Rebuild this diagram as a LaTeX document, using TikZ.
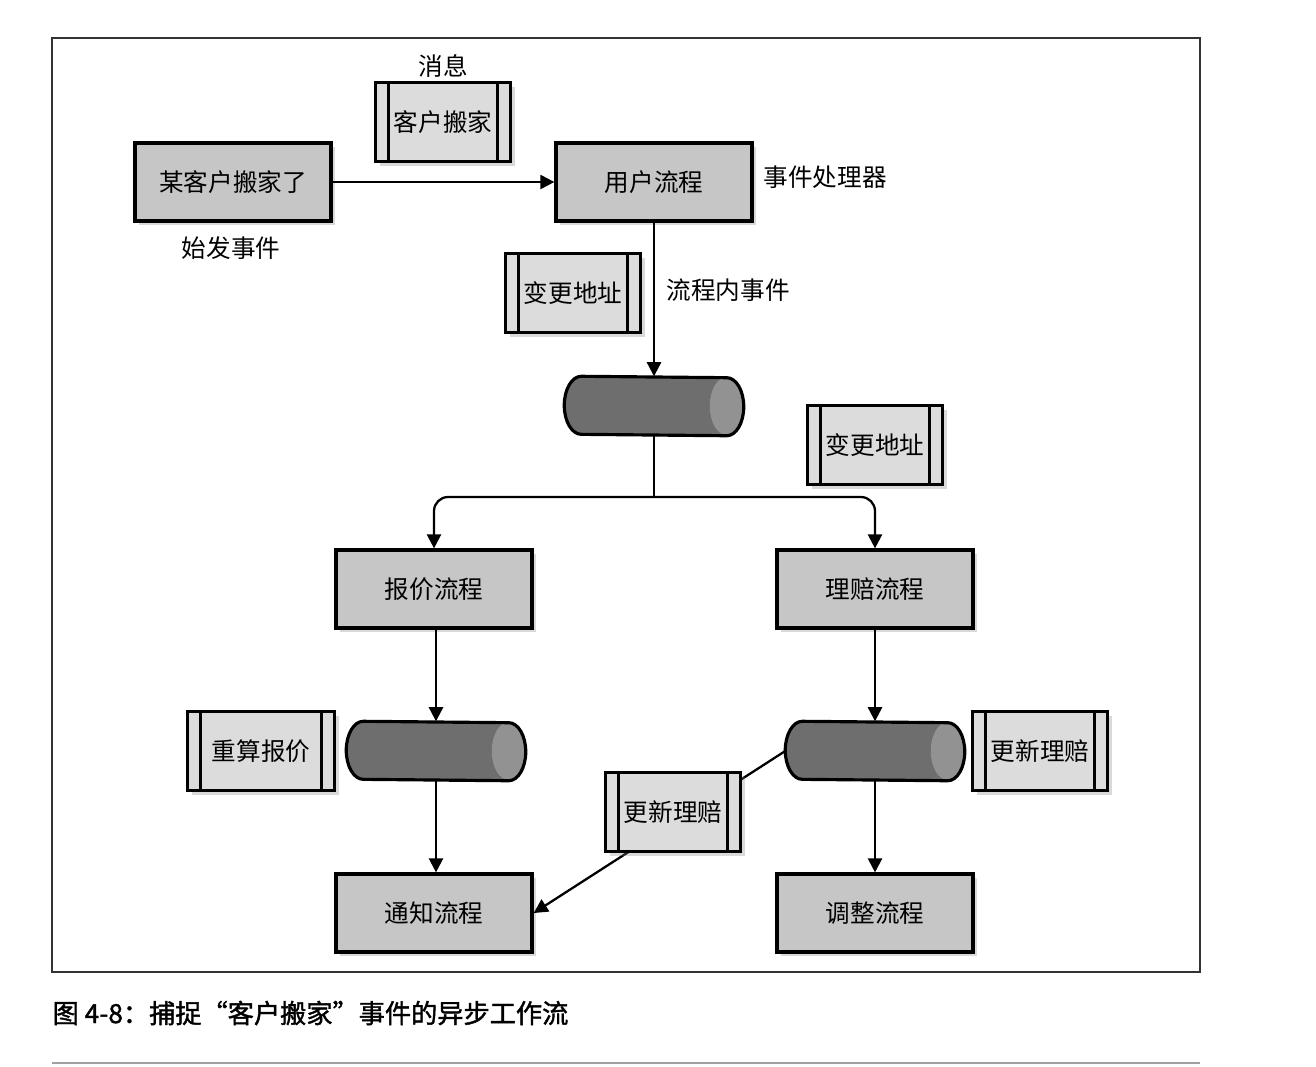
\documentclass[tikz,border=0pt]{standalone}
\usepackage{fontspec}
\setmainfont{Noto Sans CJK SC}
\newfontfamily\capfont[FakeBold=1.5]{Noto Sans CJK SC}
\usetikzlibrary{shadows, arrows.meta}

\definecolor{ProcGray}{HTML}{C6C6C6}
\definecolor{MsgGray}{HTML}{DCDCDC}
\definecolor{QueueGray}{HTML}{6E6E6E}
\definecolor{QueueEnd}{HTML}{929292}
\definecolor{RuleGray}{HTML}{A0A0A0}

\tikzstyle{Proc} = [draw=black, line width=0.9pt,
                    fill=ProcGray,
                    rectangle,
                    minimum width=1.96cm, minimum height=0.78cm, inner sep=0pt,
                    font=\fontsize{7}{8}\selectfont,
                    drop shadow={shadow xshift=1.2pt, shadow yshift=-1.2pt, opacity=0.3}]
\tikzstyle{Msg} = [draw=black, line width=0.9pt,
                   fill=MsgGray,
                   rectangle,
                   minimum width=1.35cm, minimum height=0.79cm, inner sep=0pt,
                   font=\fontsize{7}{8}\selectfont,
                   drop shadow={shadow xshift=1.2pt, shadow yshift=-1.2pt, opacity=0.3},
                   path picture={
                     \draw[line width=0.9pt] ([xshift=0.13cm]path picture bounding box.north west) -- ([xshift=0.13cm]path picture bounding box.south west);
                     \draw[line width=0.9pt] ([xshift=-0.13cm]path picture bounding box.north east) -- ([xshift=-0.13cm]path picture bounding box.south east);}]
\tikzstyle{Queue} = [rectangle, minimum width=1.78cm, minimum height=0.58cm, inner sep=0pt]
\tikzstyle{Note} = [font=\fontsize{7}{8}\selectfont, inner sep=0pt]
\tikzstyle{Flow} = [-{Triangle[length=4pt, width=4pt]}, line width=0.65pt]

\begin{document}
\begin{tikzpicture}[x=0.01cm, y=-0.01cm]

	\useasboundingbox (0, 0) rectangle (1316, 1066);
	\draw[line width=0.4pt, black!80] (52, 38) rectangle (1200, 972);

	% Process nodes
	\node (origin) at (233, 182) [Proc]{某客户搬家了};
	\node (customer) at (654, 182) [Proc]{用户流程};
	\node (quote) at (434, 589) [Proc]{报价流程};
	\node (claim) at (875, 589) [Proc]{理赔流程};
	\node (notify) at (434, 913) [Proc]{通知流程};
	\node (adjust) at (875, 913) [Proc]{调整流程};

	% Queue nodes
	\node (customer-queue) at (654, 406) [Queue]{};
	\node (quote-queue) at (436, 751) [Queue]{};
	\node (claim-queue) at (875, 751) [Queue]{};
	\coordinate (split) at (654, 497);

	% Queue drawings
	\foreach \q in {customer-queue, quote-queue, claim-queue}{
		\fill[QueueGray] ([xshift=0.17cm]\q.north west) arc[start angle=90, end angle=270, x radius=0.17cm, y radius=0.29cm]
			-- ([xshift=-0.17cm]\q.south east) arc[start angle=-90, end angle=90, x radius=0.17cm, y radius=0.29cm] -- cycle;
		\fill[QueueEnd] ([xshift=-0.17cm]\q.east) ellipse [x radius=0.17cm, y radius=0.29cm];
		\draw[line width=0.9pt] ([xshift=0.17cm]\q.north west) arc[start angle=90, end angle=270, x radius=0.17cm, y radius=0.29cm]
			-- ([xshift=-0.17cm]\q.south east) arc[start angle=-90, end angle=90, x radius=0.17cm, y radius=0.29cm] -- cycle;
	}

	% Lines
	\draw [Flow] (origin) -- (customer);
	\draw [Flow] (customer) -- (customer-queue);
	\draw [line width=0.65pt] (customer-queue) -- (split);
	\draw [Flow, rounded corners=4pt] (split) -| (quote);
	\draw [Flow, rounded corners=4pt] (split) -| (claim);
	\draw [Flow] (quote.south -| quote-queue) -- (quote-queue);
	\draw [Flow] (quote-queue) -- (quote-queue |- notify.north);
	\draw [Flow] (claim) -- (claim-queue);
	\draw [Flow] (claim-queue) -- (adjust);
	\draw [Flow] (claim-queue.west) -- (notify.east);

	% Message nodes
	\node (moved) at (443, 122) [Msg]{客户搬家};
	\node (address) at (573, 293) [Msg]{变更地址};
	\node (address-claim) at (875, 445) [Msg]{变更地址};
	\node (requote) at (261, 751) [Msg, minimum width=1.47cm]{重算报价};
	\node (update) at (1040, 751) [Msg]{更新理赔};
	\node (update-notify) at (673, 812) [Msg]{更新理赔};

	% Labels
	\node (msg-label) at (443, 66) [Note]{消息};
	\node (handler-label) at (763, 177) [Note, anchor=west]{事件处理器};
	\node (origin-label) at (231, 248) [Note]{始发事件};
	\node (inner-label) at (666, 290) [Note, anchor=west]{流程内事件};

	% Caption
	\node (caption) at (52, 1013) [anchor=west, inner sep=0pt, font=\capfont\fontsize{7.45}{9}\selectfont]{图 4-8：捕捉“客户搬家”事件的异步工作流};
	\draw[line width=0.5pt, RuleGray] (52, 1063) -- (1200, 1063);

\end{tikzpicture}
\end{document}
